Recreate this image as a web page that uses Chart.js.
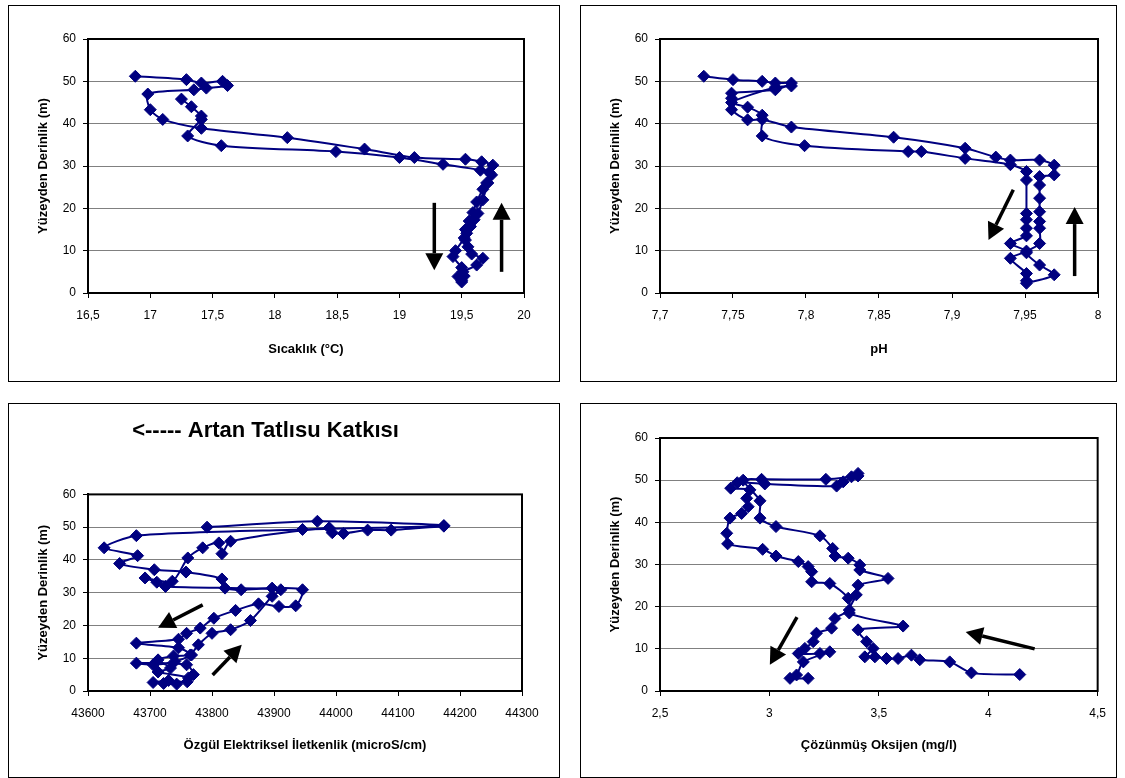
<!DOCTYPE html>
<html>
<head>
<meta charset="utf-8">
<script src="https://cdn.jsdelivr.net/npm/chart.js@4.4.1/dist/chart.umd.min.js"></script>
<style>
body{margin:0;background:#fff;width:1125px;height:778px;overflow:hidden;position:relative}
.panel{position:absolute;border:1px solid #000;box-sizing:border-box;background:#fff}
.panel canvas{position:absolute;left:0;top:0}
</style>
</head>
<body>
<div class="panel" style="left:8px;top:5px;width:552px;height:377px"><canvas id="c1" width="550" height="375"></canvas></div>
<div class="panel" style="left:580px;top:5px;width:537px;height:377px"><canvas id="c2" width="535" height="375"></canvas></div>
<div class="panel" style="left:8px;top:403px;width:552px;height:375px"><canvas id="c3" width="550" height="373"></canvas></div>
<div class="panel" style="left:580px;top:403px;width:537px;height:375px"><canvas id="c4" width="535" height="373"></canvas></div>
<script>
// depth ticks, shared by all four panels
var depthTicks = [0, 10, 20, 30, 40, 50, 60];

// temperature profile (two casts)
var sicaklikA = [16.88, 17.29, 17.41, 17.58, 17.62, 17.45, 17.35, 16.98, 17.00, 17.10, 17.41, 18.10, 18.72, 19.12, 19.53, 19.66, 19.75, 19.72, 19.70, 19.67, 19.62, 19.59, 19.56, 19.53, 19.52, 19.45, 19.43, 19.50, 19.52, 19.50];
var derinlikSA = [51.2, 50.4, 49.6, 50.0, 49.0, 48.4, 48.0, 47.0, 43.3, 41.0, 38.9, 36.7, 34.0, 32.0, 31.6, 31.0, 30.2, 28.5, 26.0, 24.5, 21.5, 19.0, 17.0, 15.0, 13.0, 10.0, 8.6, 6.0, 4.0, 3.0];
var sicaklikB = [19.50, 19.47, 19.51, 19.62, 19.67, 19.58, 19.55, 19.53, 19.54, 19.57, 19.60, 19.63, 19.67, 19.71, 19.74, 19.65, 19.35, 19.00, 18.49, 17.57, 17.30, 17.41, 17.41, 17.33, 17.25];
var derinlikSB = [2.6, 3.9, 5.0, 6.6, 8.2, 9.2, 10.9, 12.5, 14.1, 15.7, 17.3, 18.8, 22.0, 26.0, 27.9, 29.0, 30.4, 32.0, 33.4, 34.8, 37.1, 41.0, 41.8, 44.0, 45.8];
var sicaklikTicks = [16.5, 17, 17.5, 18, 18.5, 19, 19.5, 20];

// pH profile
var phA = [7.730, 7.750, 7.770, 7.779, 7.790, 7.779, 7.749, 7.749, 7.749, 7.760, 7.770, 7.790, 7.860, 7.909, 7.930, 7.940, 7.960, 7.970, 7.970, 7.960, 7.960, 7.960, 7.960, 7.960, 7.960, 7.960, 7.951, 7.960, 7.970, 7.951];
var derinlikPA = [51.2, 50.4, 50.0, 49.6, 49.6, 48.0, 47.2, 46.0, 43.3, 40.9, 41.0, 39.2, 36.8, 34.2, 32.1, 31.4, 31.4, 30.2, 27.9, 27.5, 25.5, 22.4, 19.2, 16.9, 15.3, 11.7, 9.5, 6.6, 4.3, 2.3];
var phB = [7.951, 7.951, 7.940, 7.951, 7.940, 7.951, 7.951, 7.951, 7.951, 7.951, 7.951, 7.940, 7.909, 7.879, 7.870, 7.799, 7.770, 7.770, 7.760, 7.749, 7.779, 7.790];
var derinlikPB = [2.9, 4.6, 8.2, 9.9, 11.7, 13.5, 15.3, 17.3, 18.8, 26.7, 28.7, 30.3, 31.8, 33.4, 33.4, 34.8, 37.1, 42.0, 43.9, 45.0, 48.6, 48.9];
var phTicks = [7.7, 7.75, 7.8, 7.85, 7.9, 7.95, 8];

// specific conductivity profile
var iletkenlikA = [43792, 43970, 44174, 43946, 43678, 43626, 43680, 43651, 43707, 43758, 43816, 43821, 43847, 43897, 43946, 43935, 43908, 43875, 43838, 43803, 43781, 43759, 43746, 43678, 43746, 43767, 43738, 43713, 43733, 43713, 43762, 43743, 43722];
var derinlikIA = [50.0, 51.8, 50.5, 49.3, 47.4, 43.7, 41.3, 38.9, 37.0, 36.3, 34.2, 31.4, 30.9, 31.4, 30.9, 26.0, 25.8, 26.6, 24.6, 22.2, 19.2, 17.6, 15.8, 14.6, 13.2, 11.0, 10.7, 9.5, 7.0, 5.8, 4.0, 2.1, 2.3];
var iletkenlikB = [43705, 43730, 43760, 43770, 43759, 43678, 43705, 43740, 43765, 43778, 43800, 43830, 43862, 43897, 43911, 43725, 43711, 43692, 43736, 43761, 43785, 43811, 43816, 43830, 43989, 43994, 44012, 44051, 44089, 44174];
var derinlikIB = [2.6, 3.2, 2.8, 5.0, 8.0, 8.5, 8.0, 9.0, 11.0, 14.1, 17.6, 18.7, 21.5, 28.9, 30.9, 31.9, 33.2, 34.5, 33.5, 40.6, 43.7, 45.2, 41.9, 45.7, 49.8, 48.3, 48.1, 49.1, 49.1, 50.3];
var iletkenlikTicks = [43600, 43700, 43800, 43900, 44000, 44100, 44200, 44300];

// dissolved oxygen profile
var oksijenA = [3.405, 3.375, 3.337, 3.307, 2.979, 2.853, 2.823, 2.911, 2.896, 2.903, 2.873, 2.820, 2.805, 2.809, 2.969, 3.030, 3.132, 3.177, 3.193, 3.193, 3.276, 3.360, 3.365, 3.299, 3.284, 3.215, 3.200, 3.162, 3.132, 3.231, 3.276, 3.155, 3.124, 3.094, 3.177];
var derinlikOA = [51.6, 50.8, 49.6, 48.6, 49.1, 49.4, 48.1, 47.7, 45.7, 43.7, 42.1, 41.0, 37.4, 34.9, 33.6, 32.0, 30.7, 29.5, 28.3, 25.9, 25.5, 22.0, 19.2, 17.2, 14.9, 13.7, 11.7, 10.1, 8.9, 8.9, 9.3, 6.9, 3.8, 3.0, 3.0];
var oksijenB = [4.144, 3.923, 3.824, 3.687, 3.649, 3.588, 3.535, 3.482, 3.436, 3.474, 3.444, 3.405, 3.611, 3.365, 3.397, 3.405, 3.542, 3.413, 3.413, 3.360, 3.300, 3.289, 3.231, 3.030, 2.957, 2.957, 2.880, 2.964, 3.258, 3.405];
var derinlikOB = [3.9, 4.3, 6.9, 7.4, 8.5, 7.7, 7.7, 8.1, 8.1, 10.1, 11.7, 14.5, 15.4, 18.5, 22.8, 25.1, 26.7, 28.7, 29.9, 31.5, 32.0, 33.8, 36.8, 39.0, 41.0, 45.1, 50.0, 50.2, 50.2, 51.0];
var oksijenTicks = [2.5, 3, 3.5, 4, 4.5];

// arrows [x1, y1, x2, y2] in data units, head at the second point
var okSicaklik = [[19.28, 21.3, 19.28, 5.4], [19.82, 5.0, 19.82, 21.3]];
var okPh = [[7.942, 24.4, 7.925, 12.5], [7.984, 4.0, 7.984, 20.3]];
var okIletkenlik = [[43785, 26.3, 43713, 19.3], [43801, 4.9, 43848, 14.1]];
var okOksijen = [[3.126, 17.5, 3.002, 6.2], [4.212, 10.0, 3.897, 14.0]];

var navy = '#000080';
var FONT = '"Liberation Sans", Arial, sans-serif';

function xy(xs, ys) {
    return xs.map(function (v, i) { return {x: v, y: ys[i]}; });
}

function fmt(v) {
    return String(Number(v.toFixed(3))).replace('.', ',');
}

var frame = {
    id: 'frame',
    beforeDatasetsDraw: function (chart) {
        var a = chart.chartArea, ctx = chart.ctx;
        ctx.save();
        ctx.strokeStyle = '#000';
        ctx.lineWidth = 2;
        ctx.strokeRect(a.left, a.top, a.right - a.left, a.bottom - a.top);
        ctx.restore();
    }
};

var arrows = {
    id: 'arrows',
    afterDatasetsDraw: function (chart, args, opts) {
        var ctx = chart.ctx, sx = chart.scales.x, sy = chart.scales.y;
        (opts.list || []).forEach(function (a) {
            var x1 = sx.getPixelForValue(a[0]), y1 = sy.getPixelForValue(a[1]);
            var x2 = sx.getPixelForValue(a[2]), y2 = sy.getPixelForValue(a[3]);
            var ang = Math.atan2(y2 - y1, x2 - x1);
            var hl = 17, hw = 9;
            var bx = x2 - Math.cos(ang) * hl, by = y2 - Math.sin(ang) * hl;
            ctx.save();
            ctx.strokeStyle = '#000';
            ctx.fillStyle = '#000';
            ctx.lineWidth = 3.5;
            ctx.beginPath();
            ctx.moveTo(x1, y1);
            ctx.lineTo(bx, by);
            ctx.stroke();
            ctx.beginPath();
            ctx.moveTo(x2, y2);
            ctx.lineTo(bx + Math.sin(ang) * hw, by - Math.cos(ang) * hw);
            ctx.lineTo(bx - Math.sin(ang) * hw, by + Math.cos(ang) * hw);
            ctx.closePath();
            ctx.fill();
            ctx.restore();
        });
    }
};

function profile(id, setA, setB, xTicks, xTitle, okList, pad, axisH, title) {
    var ds = [setA, setB].map(function (d) {
        return {
            data: d,
            showLine: true,
            borderColor: navy,
            borderWidth: 2,
            tension: 0.25,
            pointStyle: 'rectRot',
            pointRadius: 6,
            pointBackgroundColor: navy,
            pointBorderColor: navy,
            pointBorderWidth: 1
        };
    });
    return new Chart(document.getElementById(id), {
        type: 'scatter',
        data: {datasets: ds},
        plugins: [frame, arrows],
        options: {
            responsive: false,
            animation: false,
            layout: {padding: pad},
            plugins: {
                legend: {display: false},
                tooltip: {enabled: false},
                arrows: {list: okList},
                title: title ? {
                    display: true,
                    text: title,
                    color: '#000',
                    font: {family: FONT, size: 22, weight: 'bold'},
                    padding: {top: 14, bottom: 50}
                } : {display: false}
            },
            scales: {
                x: {
                    type: 'linear',
                    min: xTicks[0],
                    max: xTicks[xTicks.length - 1],
                    afterBuildTicks: function (s) { s.ticks = xTicks.map(function (v) { return {value: v}; }); },
                    afterFit: function (s) { s.height = axisH; },
                    grid: {drawOnChartArea: false, tickLength: 5, tickColor: '#000', tickWidth: 1},
                    border: {color: '#000', width: 2},
                    ticks: {color: '#000', padding: 10, maxRotation: 0, autoSkip: false, font: {family: FONT, size: 12}, callback: function (v) { return fmt(v); }},
                    title: {display: true, text: xTitle, color: '#000', font: {family: FONT, size: 13, weight: 'bold'}, padding: {bottom: 24}}
                },
                y: {
                    type: 'linear',
                    min: depthTicks[0],
                    max: depthTicks[depthTicks.length - 1],
                    afterBuildTicks: function (s) { s.ticks = depthTicks.map(function (v) { return {value: v}; }); },
                    afterFit: function (s) { s.width = 79; },
                    grid: {color: '#808080', lineWidth: 1, tickLength: 5, tickColor: '#000'},
                    border: {color: '#000', width: 2},
                    ticks: {color: '#000', padding: 7, font: {family: FONT, size: 12}, callback: function (v) { return fmt(v); }},
                    title: {display: true, text: 'Yüzeyden Derinlik (m)', color: '#000', font: {family: FONT, size: 13, weight: 'bold'}, padding: {top: 27}}
                }
            }
        }
    });
}

profile('c1', xy(sicaklikA, derinlikSA), xy(sicaklikB, derinlikSB), sicaklikTicks, 'Sıcaklık (°C)', okSicaklik,
    {left: 0, right: 35, top: 33, bottom: 0}, 88);
profile('c2', xy(phA, derinlikPA), xy(phB, derinlikPB), phTicks, 'pH', okPh,
    {left: 0, right: 18, top: 33, bottom: 0}, 88);
profile('c3', xy(iletkenlikA, derinlikIA), xy(iletkenlikB, derinlikIB), iletkenlikTicks, 'Özgül Elektriksel İletkenlik (microS/cm)', okIletkenlik,
    {left: 0, right: 37, top: 0, bottom: 0}, 86, '<----- Artan Tatlısu Katkısı');
profile('c4', xy(oksijenA, derinlikOA), xy(oksijenB, derinlikOB), oksijenTicks, 'Çözünmüş Oksijen (mg/l)', okOksijen,
    {left: 0, right: 18, top: 34, bottom: 0}, 86);
</script>
</body>
</html>
